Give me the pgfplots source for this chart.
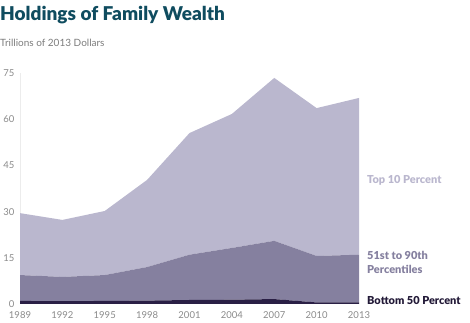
\documentclass[border=0pt]{standalone}
\usepackage{fontspec}
\setmainfont{Lato}
\newfontfamily\titlefont{Lato Black}
\usepackage{pgfplots}
\pgfplotsset{compat=1.18}
\definecolor{topc}{HTML}{BAB7CE}
\definecolor{midc}{HTML}{85809F}
\definecolor{botc}{HTML}{2A1F45}
\definecolor{titlec}{HTML}{0F4C5F}
\definecolor{tickc}{HTML}{8A8A8A}
\begin{document}
\begin{tikzpicture}
\path (0pt,0pt) rectangle (470pt,323pt);
\node[anchor=base west,inner sep=0,font=\titlefont\fontsize{19}{22}\selectfont,text=titlec] at (0pt,302pt) {Holdings of Family Wealth};
\node[anchor=base west,inner sep=0,font=\fontsize{10}{12}\selectfont,text=tickc!90!black] at (0pt,276pt) {Trillions of 2013 Dollars};
\begin{axis}[
  at={(20pt,19pt)}, anchor=south west,
  scale only axis, width=339pt, height=231pt,
  xmin=1989, xmax=2013, ymin=0, ymax=75,
  xtick={1989,1992,...,2013}, ytick={0,15,...,75},
  xticklabel style={/pgf/number format/1000 sep={}},
  /pgf/number format/assume math mode=true,
  tick label style={font=\fontsize{9.5}{11}\selectfont, text=tickc},
  yticklabel style={anchor=east, xshift=-2pt},
  xticklabel style={yshift=-4pt},
  axis line style={draw=none},
  axis x line*=bottom, axis y line*=left,
  y axis line style={draw=gray!15},
  major tick length=0pt,
  clip=false,
  stack plots=y,
]
\addplot[draw=none, fill=botc] coordinates {(1989,1.0) (1992,0.9) (1995,1.0) (1998,1.1) (2001,1.3) (2004,1.4) (2007,1.6) (2010,0.5) (2013,0.5)} \closedcycle;
\addplot[draw=none, fill=midc] coordinates {(1989,8.4) (1992,7.9) (1995,8.4) (1998,10.9) (2001,14.7) (2004,16.8) (2007,18.9) (2010,15.1) (2013,15.5)} \closedcycle;
\addplot[draw=none, fill=topc] coordinates {(1989,20.1) (1992,18.5) (1995,20.8) (1998,28.3) (2001,39.5) (2004,43.5) (2007,52.9) (2010,48.0) (2013,50.9)} \closedcycle;
\node[anchor=west, inner sep=0, font=\titlefont\fontsize{11}{13}\selectfont, text=topc] at (axis cs:2013,40.2) {\hspace{8pt}Top 10 Percent};
\node[anchor=west, inner sep=0, align=left, font=\titlefont\fontsize{11}{13.5}\selectfont, text=midc] at (axis cs:2013,13.5) {\hspace{8pt}51st to 90th\\\hspace{8pt}Percentiles};
\node[anchor=west, inner sep=0, font=\titlefont\fontsize{11}{13}\selectfont, text=botc!80!black] at (axis cs:2013,1.2) {\hspace{8pt}Bottom 50 Percent};
\end{axis}
\end{tikzpicture}
\end{document}
